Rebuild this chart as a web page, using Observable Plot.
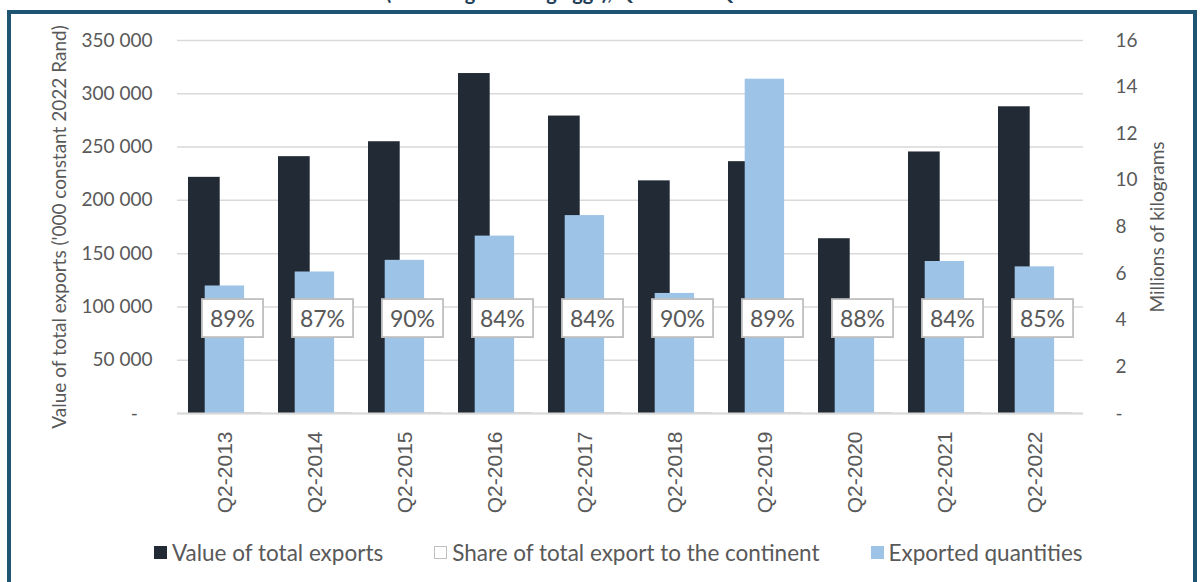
<!DOCTYPE html>
<html>
<head>
<meta charset="utf-8">
<script src="https://cdn.jsdelivr.net/npm/d3@7"></script>
<script src="https://cdn.jsdelivr.net/npm/@observablehq/plot@0.6"></script>
<style>
  html, body { margin: 0; padding: 0; background: #fff; }
  #page { position: relative; width: 1200px; height: 582px; overflow: hidden; background: #fff; font-family: Lato, sans-serif; }
  #frame { position: absolute; left: 7px; top: 10px; width: 1190px; height: 620px; border: 4px solid #1f5572; box-sizing: border-box; }
  #title { position: absolute; left: 0; width: 1182px; top: -20px; text-align: center; font: bold 20px Lato, sans-serif; color: #1f3f5a; white-space: nowrap; }
  #chart { position: absolute; left: 0; top: 0; }
  #legend { position: absolute; top: 539px; left: 154px; display: flex; align-items: center; font: 22.5px Lato, sans-serif; color: #595959; white-space: nowrap; }
  .item { display: flex; align-items: center; margin-right: 51px; }
  .sw { width: 13px; height: 13px; margin-right: 5px; box-sizing: border-box; }
</style>
</head>
<body>
<div id="page">
  <div id="title">(excluding hatching eggs), Q2 2013 – Q2 2022</div>
  <div id="frame"></div>
  <div id="chart"></div>
  <div id="legend"></div>
</div>
<script>
const years = ["Q2-2013","Q2-2014","Q2-2015","Q2-2016","Q2-2017","Q2-2018","Q2-2019","Q2-2020","Q2-2021","Q2-2022"];
const exportValue = [221600, 241000, 255000, 319000, 279100, 218300, 236300, 164000, 245400, 287800];
const exportQty = [5.47, 6.07, 6.57, 7.61, 8.49, 5.15, 14.34, 3.50, 6.52, 6.29];
const shareContinent = [0.89, 0.87, 0.90, 0.84, 0.84, 0.90, 0.89, 0.88, 0.84, 0.85];
const leftTicks = [0, 50000, 100000, 150000, 200000, 250000, 300000, 350000];
const rightTicks = [0, 2, 4, 6, 8, 10, 12, 14, 16];
const seriesNames = ["Value of total exports", "Share of total export to the continent", "Exported quantities"];

const leftMax = 350000, rightMax = 16;
const k = leftMax / rightMax;
const labelLevel = 88000;

const data = years.map((year, i) => ({
  year, value: exportValue[i], qty: exportQty[i], share: shareContinent[i]
}));

const fmtLeft = d => d === 0 ? "-\u00a0\u00a0\u00a0" : d3.format(",")(d).replace(/,/g, " ");
const fmtRight = d => { const v = Math.round(d / k); return v === 0 ? "-" : String(v); };
const fmtShare = d => Math.round(d.share * 100) + "%";

const plot = Plot.plot({
  width: 1200,
  height: 530,
  marginLeft: 177,
  marginRight: 117,
  marginTop: 40,
  marginBottom: 117,
  style: { fontFamily: "Lato, sans-serif", fontSize: "20px", color: "#595959", background: "transparent", overflow: "visible" },
  x: { domain: years, padding: 0 },
  y: { domain: [0, leftMax] },
  marks: [
    Plot.gridY(leftTicks, { stroke: "#d9d9d9", strokeOpacity: 1, strokeWidth: 1.5 }),
    Plot.barY(data, { x: "year", y: "value", fill: "#222a35", insetLeft: 8, insetRight: 50.3 }),
    Plot.barY(data, { x: "year", y: "share", fill: "white", stroke: "#bfbfbf", strokeWidth: 1.5, insetLeft: 49, insetRight: 9.3 }),
    Plot.barY(data, { x: "year", y: d => d.qty * k, fill: "#9dc3e6", insetLeft: 24.7, insetRight: 25.9 }),
    Plot.ruleY([0], { stroke: "#d9d9d9", strokeWidth: 2 }),
    Plot.axisY(leftTicks, {
      anchor: "left", tickSize: 0, tickPadding: 25, tickFormat: fmtLeft, fontSize: 19,
      label: "Value of total exports ('000 constant 2022 Rand)", labelAnchor: "center", labelOffset: 125, labelArrow: "none"
    }),
    Plot.axisY(rightTicks.map(v => v * k), {
      anchor: "right", tickSize: 0, tickPadding: 32, tickFormat: fmtRight, fontSize: 19,
      label: "Millions of kilograms", labelAnchor: "center", labelOffset: 80, labelArrow: "none"
    }),
    Plot.axisX({ tickRotate: -90, tickSize: 0, tickPadding: 18, fontSize: 21, fontFamily: "Liberation Sans, Arial, sans-serif", label: null }),
    Plot.text(data, {
      x: "year", y: () => labelLevel, text: fmtShare,
      dx: 7, fontSize: 23, fill: "#595959"
    })
  ]
});

document.getElementById("chart").appendChild(plot);

// white boxes with grey borders behind the data labels
const ns = "http://www.w3.org/2000/svg";
const labelTexts = new Set(data.map(fmtShare));
plot.querySelectorAll("text").forEach(t => {
  if (!labelTexts.has(t.textContent)) return;
  const b = t.getBBox();
  const padX = 8, padY = 5;
  const r = document.createElementNS(ns, "rect");
  r.setAttribute("x", b.x - padX);
  r.setAttribute("y", b.y - padY);
  r.setAttribute("width", b.width + 2 * padX);
  r.setAttribute("height", b.height + 2 * padY);
  r.setAttribute("fill", "white");
  r.setAttribute("stroke", "#bfbfbf");
  r.setAttribute("stroke-width", "1.8");
  if (t.getAttribute("transform")) r.setAttribute("transform", t.getAttribute("transform"));
  t.parentNode.insertBefore(r, t);
});

// legend
const swatchStyles = [
  { background: "#222a35", border: "none" },
  { background: "white", border: "1.5px solid #bfbfbf" },
  { background: "#9dc3e6", border: "none" }
];
const legend = document.getElementById("legend");
seriesNames.forEach((name, i) => {
  const item = document.createElement("div");
  item.className = "item";
  const sw = document.createElement("div");
  sw.className = "sw";
  sw.style.background = swatchStyles[i].background;
  sw.style.border = swatchStyles[i].border;
  const tx = document.createElement("span");
  tx.textContent = name;
  item.appendChild(sw);
  item.appendChild(tx);
  legend.appendChild(item);
});
</script>
</body>
</html>
